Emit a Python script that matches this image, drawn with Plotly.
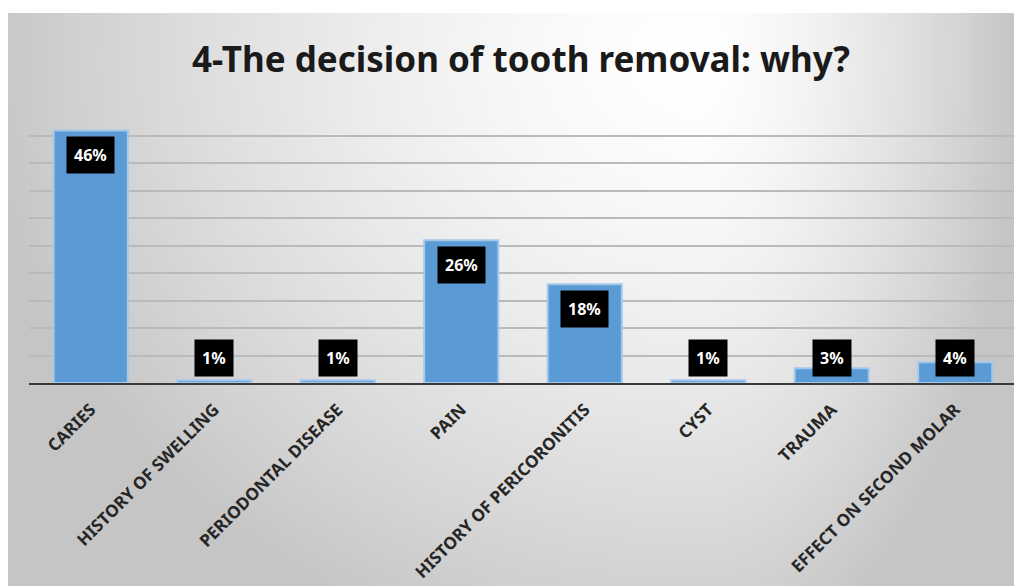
import base64
import struct
import zlib

import numpy as np
import plotly.graph_objects as go

# ---------------- data ----------------
categories = [
    "CARIES",
    "HISTORY OF SWELLING",
    "PERIODONTAL DISEASE",
    "PAIN",
    "HISTORY OF PERICORONITIS",
    "CYST",
    "TRAUMA",
    "EFFECT ON SECOND MOLAR",
]
values = [46, 0.5, 0.5, 26, 18, 0.5, 2.7, 3.8]
value_labels = ["46%", "1%", "1%", "26%", "18%", "1%", "3%", "4%"]
title_text = "4-The decision of tooth removal: why?"

# ---------------- layout geometry ----------------
# the page body has an 8px default margin; size the figure to fit the window
OFF = 8
W, H = 1022 - OFF, 586 - OFF
ML, MR, MT, MB = 29 - OFF, 5, 114 - OFF, 203
PW = W - ML - MR
PH = H - MT - MB


# ---------------- background gradient (style only) ----------------
def make_png(arr):
    h, w = arr.shape
    raw = b"".join(b"\x00" + arr[r].astype(np.uint8).tobytes() for r in range(h))

    def chunk(tag, data):
        c = struct.pack(">I", len(data)) + tag + data
        return c + struct.pack(">I", zlib.crc32(tag + data) & 0xFFFFFFFF)

    png = b"\x89PNG\r\n\x1a\n"
    png += chunk(b"IHDR", struct.pack(">IIBBBBB", w, h, 8, 0, 0, 0, 0))
    png += chunk(b"IDAT", zlib.compress(raw, 9))
    png += chunk(b"IEND", b"")
    return "data:image/png;base64," + base64.b64encode(png).decode()


gw, gh = 260, 150
gx = (np.arange(gw) + 0.5) / gw
gy = (np.arange(gh) + 0.5) / gh
X, Y = np.meshgrid(gx, gy)
cx, cy = 0.68, 0.08
rx = np.where(X < cx, cx * 1.05, (1 - cx) * 1.0)
ry = 1.1
r = np.sqrt(((X - cx) / rx) ** 2 + ((Y - cy) / ry) ** 2)
shade = 255 - 58 * np.clip(r, 0, 1) ** 1.5
bg_src = make_png(shade)

panel_x0, panel_y0 = 7 - OFF, 13 - OFF
img_x = (panel_x0 - ML) / PW
img_y = (H - MB - panel_y0) / PH
img_w = (W - panel_x0) / PW
img_h = (H - panel_y0) / PH

FONT = "Noto Sans, Lato, Arial"

# ---------------- figure ----------------
fig = go.Figure()
fig.add_trace(
    go.Bar(
        x=categories,
        y=values,
        marker=dict(color="#5b9bd5", line=dict(color="#a3c8ec", width=2)),
        hoverinfo="skip",
    )
)

annotations = []
for cat, v, lab in zip(categories, values, value_labels):
    if v >= 10:
        ya, yanchor, ys = v, "top", -6
    else:
        ya, yanchor, ys = 0, "bottom", 6
    annotations.append(
        dict(
            x=cat,
            y=ya,
            xref="x",
            yref="y",
            text="<b>%s</b>" % lab,
            showarrow=False,
            yanchor=yanchor,
            yshift=ys,
            bgcolor="#000000",
            borderpad=7,
            font=dict(family=FONT, size=16, color="#ffffff"),
        )
    )

fig.update_layout(
    width=W,
    height=H,
    margin=dict(l=ML, r=MR, t=MT, b=MB, autoexpand=False),
    paper_bgcolor="#ffffff",
    plot_bgcolor="rgba(0,0,0,0)",
    showlegend=False,
    bargap=0.4,
    title=dict(
        text="<b>%s</b>" % title_text,
        x=(521 - OFF) / W,
        xref="container",
        xanchor="center",
        y=1 - (60 - OFF) / H,
        yref="container",
        yanchor="middle",
        font=dict(family=FONT, size=35, color="#1a1a1a"),
    ),
    xaxis=dict(
        tickangle=-45,
        tickfont=dict(family=FONT, size=17, color="#262626"),
        showline=True,
        linecolor="#3a3a3a",
        linewidth=2,
        ticks="",
        ticklabelstandoff=8,
        showgrid=False,
        tickprefix="<b>",
        ticksuffix="</b>",
    ),
    yaxis=dict(
        range=[0, 49],
        dtick=5,
        showgrid=True,
        gridcolor="#bababa",
        gridwidth=1.5,
        showticklabels=False,
        zeroline=False,
        ticks="",
    ),
    annotations=annotations,
    images=[
        dict(
            source=bg_src,
            xref="paper",
            yref="paper",
            x=img_x,
            y=img_y,
            sizex=img_w,
            sizey=img_h,
            xanchor="left",
            yanchor="top",
            sizing="stretch",
            layer="below",
        )
    ],
)

fig.write_html("out.html")
